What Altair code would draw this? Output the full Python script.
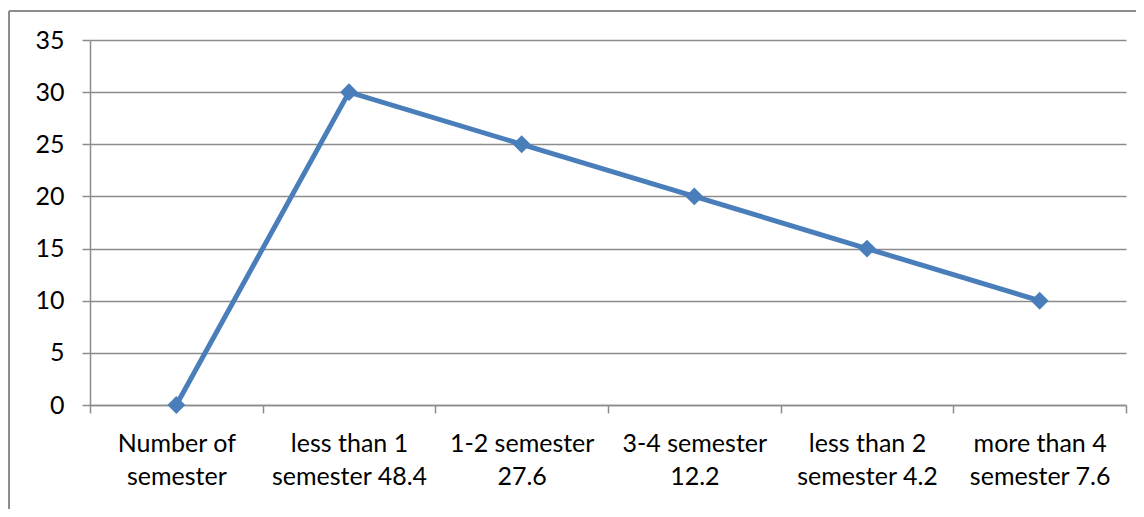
import altair as alt
import pandas as pd

categories = ["Number of\nsemester", "less than 1\nsemester 48.4", "1-2 semester\n27.6",
              "3-4 semester\n12.2", "less than 2\nsemester 4.2", "more than 4\nsemester 7.6"]
values = [0, 30, 25, 20, 15, 10]

df = pd.DataFrame({"cat": categories, "val": values})

FONT = "Lato"
GRID = "#8c8c8c"
BLUE = "#4a7ebb"

x = alt.X("cat:N", sort=categories, bandPosition=0.5,
          scale=alt.Scale(type="band", paddingInner=0, paddingOuter=0),
          axis=alt.Axis(title=None, labelAngle=0, labelExpr="split(datum.label, '\\n')",
                        tickBand="extent", tickSize=8, tickColor=GRID, domainColor=GRID,
                        domainWidth=1.5, tickWidth=1.5, labelFont=FONT, labelFontSize=25,
                        labelColor="#000000", labelLineHeight=33, labelPadding=18,
                        grid=False, labelBaseline="top"))
y = alt.Y("val:Q", scale=alt.Scale(domain=[0, 35], nice=False),
          axis=alt.Axis(title=None, values=list(range(0, 36, 5)), tickSize=8, tickColor=GRID,
                        domainColor=GRID, domainWidth=1.5, tickWidth=1.5, gridColor=GRID,
                        gridWidth=1.5, gridOpacity=1, labelFont=FONT, labelFontSize=25,
                        labelColor="#000000", labelPadding=18))

line = alt.Chart(df).mark_line(color=BLUE, strokeWidth=5).encode(x=x, y=y)
pts = alt.Chart(df).mark_point(shape="diamond", filled=True, size=320, color=BLUE, opacity=1).encode(x=x, y=y)

frame_v = alt.Chart(df).mark_rule(color="#8c8c8c", strokeWidth=2).encode(
    x=alt.value(-81), y=alt.value(-29), y2=alt.value(469))
frame_h = alt.Chart(df).mark_rule(color="#8c8c8c", strokeWidth=2).encode(
    x=alt.value(-81), x2=alt.value(1046), y=alt.value(-29))

chart = alt.layer(line, pts, frame_v, frame_h).properties(
    width=1036, height=365,
    padding={"left": 82, "top": 32, "right": 10, "bottom": 104},
    autosize=alt.AutoSizeParams(type="none"),
    background="#ffffff",
).configure_view(stroke=None)

chart.save("out.html", embed_options={"renderer": "svg", "actions": False})
